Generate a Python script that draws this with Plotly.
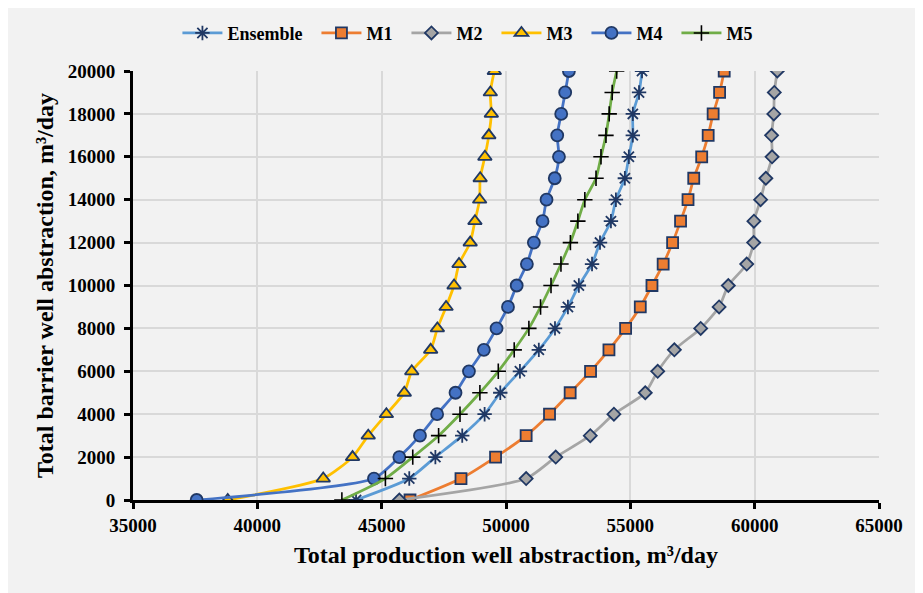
import plotly.graph_objects as go

barrier = [0, 1000, 2000, 3000, 4000, 5000, 6000, 7000, 8000, 9000, 10000,
           11000, 12000, 13000, 14000, 15000, 16000, 17000, 18000, 19000, 20000]

ensemble = [43970, 46110, 47160, 48240, 49140, 49770, 50560, 51320, 51970, 52490, 52930,
            53460, 53780, 54220, 54420, 54780, 54940, 55100, 55100, 55350, 55470]
m1 = [46140, 48190, 49580, 50810, 51750, 52580, 53400, 54140, 54810, 55400, 55870,
      56320, 56700, 57020, 57320, 57550, 57870, 58130, 58330, 58590, 58775]
m2 = [45710, 50810, 52000, 53390, 54340, 55600, 56100, 56770, 57830, 58570, 58940,
      59680, 59960, 59970, 60240, 60450, 60700, 60680, 60770, 60790, 60910]
m3 = [38810, 42650, 43830, 44460, 45190, 45910, 46210, 46970, 47240, 47590, 47910,
      48110, 48560, 48750, 48940, 48960, 49150, 49310, 49410, 49370, 49530]
m4 = [37560, 44690, 45710, 46540, 47230, 47970, 48510, 49110, 49620, 50080, 50430,
      50840, 51120, 51470, 51630, 51960, 52130, 52060, 52220, 52380, 52530]
m5 = [43400, 45150, 46250, 47290, 48150, 48950, 49690, 50330, 50920, 51390, 51810,
      52210, 52590, 52890, 53170, 53620, 53820, 54020, 54150, 54270, 54450]

x_ticks = [35000, 40000, 45000, 50000, 55000, 60000, 65000]
y_ticks = list(range(0, 20001, 2000))

NAVY = "#203864"
FONT = "Liberation Serif"
PAD = "\u00a0\u00a0"

series = [
    ("Ensemble", ensemble, "#5B9BD5", "asterisk-open", NAVY, NAVY, 12, 1.8),
    ("M1", m1, "#ED7D31", "square", "#ED7D31", NAVY, 11, 1.8),
    ("M2", m2, "#A5A5A5", "diamond", "#A5A5A5", NAVY, 10, 1.8),
    ("M3", m3, "#FFC000", "triangle-up", "#FFC000", NAVY, 12, 1.8),
    ("M4", m4, "#4472C4", "circle", "#4472C4", NAVY, 12, 1.8),
    ("M5", m5, "#70AD47", "cross-thin-open", "#000000", "#000000", 11, 1.6),
]

fig = go.Figure()
for name, xs, lc, sym, fill, mlc, size, mw in series:
    fig.add_trace(go.Scatter(
        x=xs, y=barrier, name="<b>" + name + "</b>" + PAD, mode="lines+markers",
        line=dict(color=lc, width=2.75, shape="spline", smoothing=0.6),
        marker=dict(symbol=sym, size=size, color=fill,
                    line=dict(color=mlc, width=mw)),
    ))

# page body has an 8px margin: figure is drawn at (8, 8)
fig.update_layout(
    width=915, height=585,
    paper_bgcolor="#f2f2f2", plot_bgcolor="#f2f2f2",
    margin=dict(l=125, r=44, t=63, b=93, autoexpand=False),
    font=dict(family=FONT, size=16, color="#000000"),
    legend=dict(orientation="h", x=0.455, xanchor="center", y=1.088, yanchor="middle",
                font=dict(family=FONT, size=18, color="#000000"),
                bgcolor="rgba(0,0,0,0)", itemwidth=40),
    showlegend=True,
)

fig.update_xaxes(
    range=[35000, 65000], tickvals=x_ticks, ticktext=["<b>%d</b>" % v for v in x_ticks],
    showgrid=True, gridcolor="#d9d9d9", gridwidth=1.5,
    showline=True, linecolor="#000000", linewidth=3,
    ticks="outside", ticklen=6, tickwidth=2.5, tickcolor="#000000",
    tickfont=dict(family=FONT, size=19, color="#000000"),
    title=dict(text="<b>Total production well abstraction, m³/day</b>",
               font=dict(family=FONT, size=24, color="#000000"), standoff=12),
    zeroline=False,
)
fig.update_yaxes(
    range=[0, 20000], tickvals=y_ticks, ticktext=["<b>%d</b>" % v for v in y_ticks],
    showgrid=True, gridcolor="#d9d9d9", gridwidth=1.5,
    showline=True, linecolor="#000000", linewidth=3,
    ticks="outside", ticklen=6, tickwidth=2.5, tickcolor="#000000",
    ticklabelstandoff=5,
    tickfont=dict(family=FONT, size=19, color="#000000"),
    title=dict(text="<b>Total barrier well abstraction, m³/day</b>",
               font=dict(family=FONT, size=24, color="#000000"), standoff=8),
    zeroline=False,
)

fig.write_html("out.html")
